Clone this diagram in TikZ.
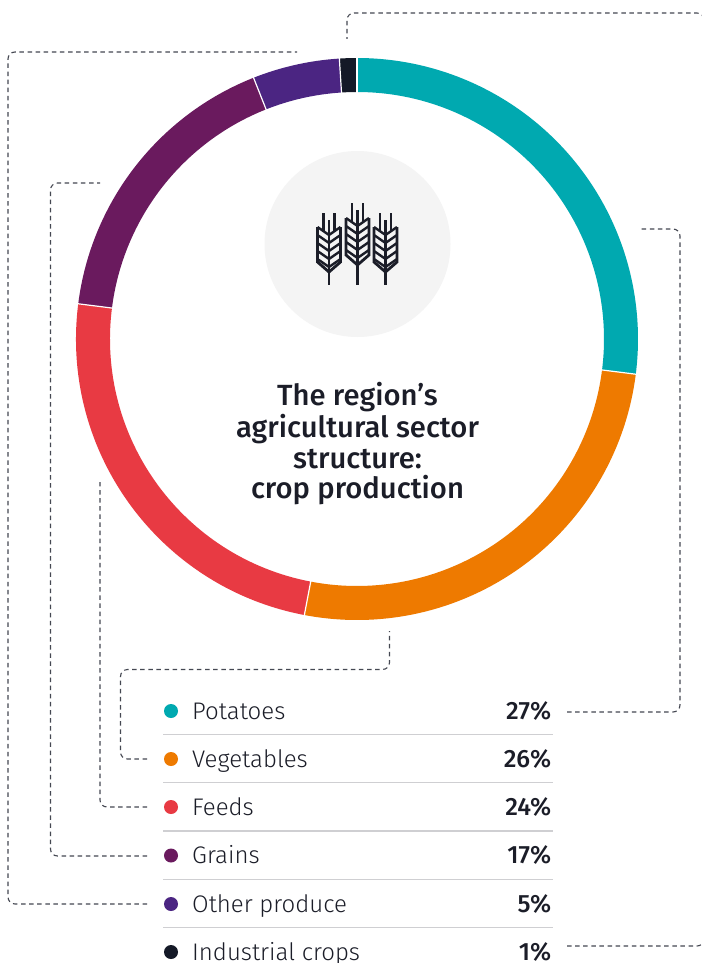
\documentclass[tikz,border=0pt]{standalone}
\usepackage{fontspec}
\setmainfont{Fira Sans}
\newfontfamily\lightf{Fira Sans Light}
\newfontfamily\medf{Fira Sans Medium}
\definecolor{cPot}{HTML}{00A9B0}
\definecolor{cVeg}{HTML}{EE7A00}
\definecolor{cFee}{HTML}{E83A43}
\definecolor{cGra}{HTML}{6A1A5E}
\definecolor{cOth}{HTML}{4B2582}
\definecolor{cInd}{HTML}{141927}
\definecolor{cTxt}{HTML}{1B1D28}
\definecolor{cBg}{HTML}{F4F4F4}
\definecolor{cSep}{HTML}{CFCFD2}
\definecolor{cDash}{HTML}{454852}
\tikzset{
  conn/.style={draw=cDash, line width=1.1pt, dash pattern=on 4.5pt off 3.6pt, rounded corners=7pt},
  legdot/.style={circle, inner sep=0pt, minimum size=14pt},
  leglabel/.style={anchor=base west, inner sep=0pt, text=cTxt, font=\lightf\fontsize{24}{26}\selectfont},
  legpct/.style={anchor=base east, inner sep=0pt, text=cTxt, font=\medf\fontsize{25}{27}\selectfont},
  sepline/.style={draw=cSep, line width=1.3pt},
  titleline/.style={anchor=base, inner sep=0pt, text=cTxt, font=\medf\fontsize{29.2}{31}\selectfont},
  wheat/.style={draw=cTxt, line width=2.8pt, line cap=butt, line join=miter},
}
\begin{document}
\begin{tikzpicture}[x=1pt, y=-1pt]
\useasboundingbox (0,0) rectangle (701,963);
\fill[white] (0,0) rectangle (701,963);

% icon background
\node[circle, fill=cBg, minimum size=186pt, inner sep=0pt] (iconbg) at (357.5,244) {};

% wheat icon
\foreach \cx/\tp/\et/\eb/\sb in {329/213/227/272/285, 357.5/203/218/265/285, 385.5/213/227/272/285}{
  \draw[wheat] (\cx-11.5,\et) -- (\cx-11.5,\eb-10) -- (\cx,\eb) -- (\cx+11.5,\eb-10) -- (\cx+11.5,\et);
  \foreach \k in {0,1,2,3,4}{
    \draw[wheat, line width=2.4pt] (\cx-11.5,\et+\k*8) -- (\cx,\et+8+\k*8) -- (\cx+11.5,\et+\k*8);
  }
  \draw[wheat] (\cx-5.5,\tp) -- (\cx-5.5,\et+3.5);
  \draw[wheat] (\cx+5.5,\tp) -- (\cx+5.5,\et+3.5);
  \draw[wheat] (\cx,\tp+7) -- (\cx,\sb);
}

% ring
\begin{scope}[shift={(357,339)}, yscale=-1]
  \def\ri{247}\def\ro{281}
  \foreach \a/\b/\c in {90/-7.2/cPot, -7.2/-100.8/cVeg, -100.8/-187.2/cFee, 172.8/111.6/cGra, 111.6/93.6/cOth, 93.6/90/cInd}{
    \fill[\c] (\a:\ri) arc[start angle=\a, end angle=\b, radius=\ri] -- (\b:\ro) arc[start angle=\b, end angle=\a, radius=\ro] -- cycle;
  }
  \foreach \a in {90,-7.2,-100.8,172.8,111.6,93.6}{
    \draw[white, line width=1.2pt] (\a:\ri-1) -- (\a:\ro+1);
  }
\end{scope}

% title
\node[titleline] (t1) at (357.5,405.7) {The region’s};
\node[titleline] (t2) at (357.5,437) {agricultural sector};
\node[titleline] (t3) at (357.5,468) {structure:};
\node[titleline] (t4) at (357.5,498.5) {crop production};

% legend
\foreach \i/\y/\c/\lab/\p in {1/711/cPot/Potatoes/27\%, 2/759/cVeg/Vegetables/26\%, 3/807/cFee/Feeds/24\%, 4/855.5/cGra/Grains/17\%, 5/904/cOth/Other produce/5\%, 6/952/cInd/Industrial crops/1\%}{
  \node[legdot, fill=\c] (d\i) at (171,\y) {};
  \node[leglabel] (l\i) at (192,\y+8.3) {\lab};
  \node[legpct] (p\i) at (551.5,\y+8.3) {\p};
}
\foreach \y/\n in {734.3/1, 782.7/2, 831/3, 879.3/4, 927.7/5}{
  \coordinate (sa\n) at (163,\y);
  \coordinate (sb\n) at (552.5,\y);
  \draw[sepline] (sa\n) -- (sb\n);
}

% connectors
\coordinate (potS) at (567,712);   \coordinate (potE) at (640,229);
\coordinate (vegS) at (147,759);   \coordinate (vegE) at (389.5,631);
\coordinate (feeS) at (147,807);   \coordinate (feeE) at (100,482);
\coordinate (graS) at (147,856);   \coordinate (graE) at (100,183);
\coordinate (othS) at (147,904);   \coordinate (othE) at (297,52);
\coordinate (indS) at (567,946);   \coordinate (indE) at (347,39);

\draw[conn] (potS) -- (680,712) -- (680,229) -- (potE);
\draw[conn] (vegS) -- (120.5,759) -- (120.5,669.5) -- (389.5,669.5) -- (vegE);
\draw[conn] (feeS) -- (100,807) -- (feeE);
\draw[conn] (graS) -- (50.5,856) -- (50.5,183) -- (graE);
\draw[conn] (othS) -- (8,904) -- (8,52) -- (othE);
\draw[conn] (indS) -- (704,946) -- (704,13) -- (347,13) -- (indE);
\end{tikzpicture}
\end{document}
